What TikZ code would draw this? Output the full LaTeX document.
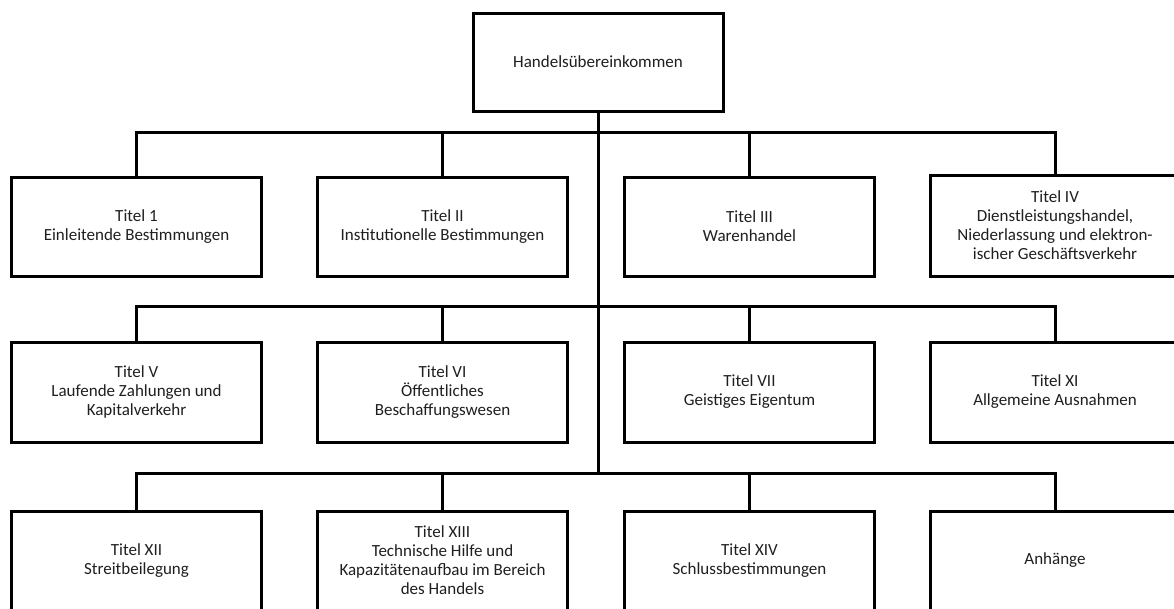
\documentclass[tikz,border=0pt]{standalone}
\usepackage{fontspec}
\setmainfont{Carlito}
\begin{document}
\begin{tikzpicture}[x=1pt,y=-1pt,
  box/.style={draw=black,line width=3pt,fill=white,minimum width=250pt,minimum height=99pt,
    align=center,inner sep=2pt,font=\fontsize{17}{19}\selectfont,text=black!88},
  conn/.style={draw=black,line width=3pt}]
\useasboundingbox (0,0) rectangle (1174,608);
\clip (0,0) rectangle (1174,608);
\fill[white] (0,0) rectangle (1174,608);
% connectors first
\coordinate (j1) at (598,132);
\coordinate (j2) at (598,306);
\coordinate (j3) at (598,473);
% nodes
\node[box,minimum height=98pt] (top) at (598,62) {Handelsübereinkommen};
\node[box] (a1) at (136.5,226.5) {Titel 1\\Einleitende Bestimmungen};
\node[box] (a2) at (442.5,226.5) {Titel II\\Institutionelle Bestimmungen};
\node[box] (a3) at (749.5,226.5) {Titel III\\Warenhandel};
\node[box,minimum height=101pt] (a4) at (1055,225.5) {Titel IV\\Dienstleistungshandel,\\Niederlassung und elektron-\\ischer Geschäftsverkehr};
\node[box,minimum height=100pt] (b1) at (136.5,392) {Titel V\\Laufende Zahlungen und\\Kapitalverkehr};
\node[box,minimum height=100pt] (b2) at (442.5,392) {Titel VI\\Öffentliches\\Beschaffungswesen};
\node[box,minimum height=100pt] (b3) at (749.5,392) {Titel VII\\Geistiges Eigentum};
\node[box,minimum height=100pt] (b4) at (1055,392) {Titel XI\\Allgemeine Ausnahmen};
\node[box] (c1) at (136.5,560.5) {Titel XII\\Streitbeilegung};
\node[box] (c2) at (442.5,560.5) {Titel XIII\\Technische Hilfe und\\Kapazitätenaufbau im Bereich\\des Handels};
\node[box] (c3) at (749.5,560.5) {Titel XIV\\Schlussbestimmungen};
\node[box] (c4) at (1055,560.5) {Anhänge};
% trunk
\draw[conn] (top.south) -- (j3);
% row 1
\draw[conn] (a1.north) -- (a1.north |- j1) -- (a4.north |- j1) -- (a4.north);
\draw[conn] (a2.north) -- (a2.north |- j1);
\draw[conn] (a3.north) -- (a3.north |- j1);
% row 2
\draw[conn] (b1.north) -- (b1.north |- j2) -- (b4.north |- j2) -- (b4.north);
\draw[conn] (b2.north) -- (b2.north |- j2);
\draw[conn] (b3.north) -- (b3.north |- j2);
% row 3
\draw[conn] (c1.north) -- (c1.north |- j3) -- (c4.north |- j3) -- (c4.north);
\draw[conn] (c2.north) -- (c2.north |- j3);
\draw[conn] (c3.north) -- (c3.north |- j3);
\end{tikzpicture}
\end{document}
